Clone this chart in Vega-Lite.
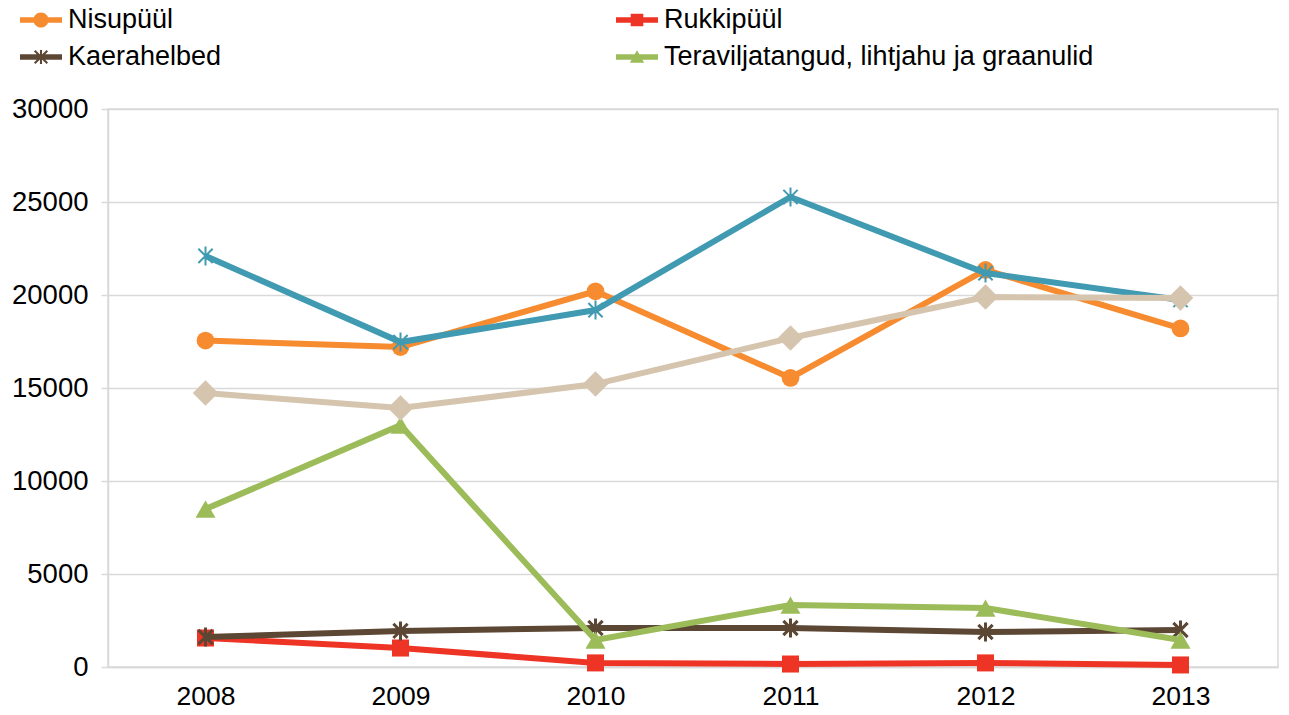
{
  "$schema": "https://vega.github.io/schema/vega-lite/v6.json",
  "width": 1170,
  "height": 558,
  "autosize": "none",
  "padding": {"left": 108, "top": 109, "right": 11, "bottom": 48},
  "data": {
    "values": [
      {"series": "Nisupüül", "year": "2008", "value": 17550},
      {"series": "Nisupüül", "year": "2009", "value": 17200},
      {"series": "Nisupüül", "year": "2010", "value": 20200},
      {"series": "Nisupüül", "year": "2011", "value": 15540},
      {"series": "Nisupüül", "year": "2012", "value": 21350},
      {"series": "Nisupüül", "year": "2013", "value": 18200},
      {"series": "Rukkipüül", "year": "2008", "value": 1560},
      {"series": "Rukkipüül", "year": "2009", "value": 1020},
      {"series": "Rukkipüül", "year": "2010", "value": 220},
      {"series": "Rukkipüül", "year": "2011", "value": 160},
      {"series": "Rukkipüül", "year": "2012", "value": 220},
      {"series": "Rukkipüül", "year": "2013", "value": 110},
      {"series": "Kaerahelbed", "year": "2008", "value": 1610},
      {"series": "Kaerahelbed", "year": "2009", "value": 1940},
      {"series": "Kaerahelbed", "year": "2010", "value": 2100},
      {"series": "Kaerahelbed", "year": "2011", "value": 2100},
      {"series": "Kaerahelbed", "year": "2012", "value": 1880},
      {"series": "Kaerahelbed", "year": "2013", "value": 1990},
      {"series": "Teraviljatangud, lihtjahu ja graanulid", "year": "2008", "value": 8490},
      {"series": "Teraviljatangud, lihtjahu ja graanulid", "year": "2009", "value": 13000},
      {"series": "Teraviljatangud, lihtjahu ja graanulid", "year": "2010", "value": 1450},
      {"series": "Teraviljatangud, lihtjahu ja graanulid", "year": "2011", "value": 3330},
      {"series": "Teraviljatangud, lihtjahu ja graanulid", "year": "2012", "value": 3170},
      {"series": "Teraviljatangud, lihtjahu ja graanulid", "year": "2013", "value": 1450},
      {"series": "Seeria 5", "year": "2008", "value": 22100},
      {"series": "Seeria 5", "year": "2009", "value": 17470},
      {"series": "Seeria 5", "year": "2010", "value": 19190},
      {"series": "Seeria 5", "year": "2011", "value": 25270},
      {"series": "Seeria 5", "year": "2012", "value": 21180},
      {"series": "Seeria 5", "year": "2013", "value": 19730},
      {"series": "Seeria 6", "year": "2008", "value": 14730},
      {"series": "Seeria 6", "year": "2009", "value": 13920},
      {"series": "Seeria 6", "year": "2010", "value": 15210},
      {"series": "Seeria 6", "year": "2011", "value": 17690},
      {"series": "Seeria 6", "year": "2012", "value": 19890},
      {"series": "Seeria 6", "year": "2013", "value": 19840}
    ]
  },
  "encoding": {
    "x": {
      "field": "year",
      "type": "ordinal",
      "scale": {"type": "point", "padding": 0.5},
      "axis": {
        "title": null,
        "labelAngle": 0,
        "labelFont": "Liberation Sans",
        "labelFontSize": 26.5,
        "labelColor": "#000000",
        "labelPadding": 16,
        "ticks": false,
        "grid": false,
        "domainColor": "#D9D9D9",
        "domainWidth": 1.5
      }
    },
    "y": {
      "field": "value",
      "type": "quantitative",
      "scale": {"domain": [0, 30000], "nice": false, "zero": true},
      "axis": {
        "title": null,
        "values": [0, 5000, 10000, 15000, 20000, 25000, 30000],
        "format": "d",
        "labelFont": "Liberation Sans",
        "labelFontSize": 27.5,
        "labelColor": "#000000",
        "labelPadding": 13,
        "tickSize": 7,
        "tickColor": "#D9D9D9",
        "tickWidth": 1.5,
        "domainColor": "#D9D9D9",
        "domainWidth": 1.5,
        "gridColor": "#D9D9D9",
        "gridWidth": 1.5
      }
    },
    "color": {
      "field": "series",
      "type": "nominal",
      "scale": {
        "domain": ["Nisupüül", "Rukkipüül", "Kaerahelbed", "Teraviljatangud, lihtjahu ja graanulid", "Seeria 5", "Seeria 6"],
        "range": ["#F68B2F", "#EE3424", "#5C4634", "#9CBB59", "#409AB1", "#D6C5AE"]
      },
      "legend": null
    }
  },
  "layer": [
    {
      "transform": [
        {"filter": "datum.year == '2008' && datum.series != 'Seeria 5' && datum.series != 'Seeria 6'"}
      ],
      "mark": {"type": "point", "filled": true, "opacity": 0},
      "encoding": {
        "color": {
          "field": "series",
          "type": "nominal",
          "legend": {
            "title": null,
            "values": ["Nisupüül", "Rukkipüül", "Kaerahelbed", "Teraviljatangud, lihtjahu ja graanulid"],
            "orient": "none",
            "direction": "horizontal",
            "legendX": -88,
            "legendY": -110,
            "columns": 2,
            "columnPadding": 394,
            "rowPadding": 3,
            "symbolSize": 1764,
            "symbolOpacity": 1,
            "symbolStrokeWidth": 0,
            "labelFont": "Liberation Sans",
            "labelFontSize": 27,
            "labelColor": "#000000",
            "labelOffset": 6,
            "labelLimit": 700
          }
        },
        "shape": {
          "field": "series",
          "type": "nominal",
          "scale": {
            "domain": ["Nisupüül", "Rukkipüül", "Kaerahelbed", "Teraviljatangud, lihtjahu ja graanulid", "Seeria 5", "Seeria 6"],
            "range": [
              "M-1,-0.13H1V0.13H-1Z M-0.36,0A0.36,0.36 0 1,1 0.36,0A0.36,0.36 0 1,1 -0.36,0Z",
              "M-1,-0.13H1V0.13H-1Z M-0.3,-0.3H0.3V0.3H-0.3Z",
              "M-1,-0.13H1V0.13H-1Z M-0.05,-0.33H0.05V0.33H-0.05Z M-0.265,-0.335L0.335,0.265L0.265,0.335L-0.335,-0.265Z M0.335,-0.265L-0.265,0.335L-0.335,0.265L0.265,-0.335Z",
              "M-1,-0.13H1V0.13H-1Z M0,-0.32L0.34,0.27L-0.34,0.27Z",
              "M-1,-0.13H1V0.13H-1Z",
              "M-1,-0.13H1V0.13H-1Z"
            ]
          },
          "legend": {
            "title": null,
            "values": ["Nisupüül", "Rukkipüül", "Kaerahelbed", "Teraviljatangud, lihtjahu ja graanulid"],
            "orient": "none",
            "direction": "horizontal",
            "legendX": -88,
            "legendY": -110,
            "columns": 2,
            "columnPadding": 394,
            "rowPadding": 3,
            "symbolSize": 1764,
            "symbolOpacity": 1,
            "symbolStrokeWidth": 0,
            "labelFont": "Liberation Sans",
            "labelFontSize": 27,
            "labelColor": "#000000",
            "labelOffset": 6,
            "labelLimit": 700
          }
        }
      }
    },
    {
      "transform": [{"filter": "datum.series == 'Nisupüül'"}],
      "mark": {"type": "line", "strokeWidth": 6, "point": {"shape": "circle", "filled": true, "size": 314, "opacity": 1}}
    },
    {
      "transform": [{"filter": "datum.series == 'Rukkipüül'"}],
      "mark": {"type": "line", "strokeWidth": 6, "point": {"shape": "square", "filled": true, "size": 290, "opacity": 1}}
    },
    {
      "transform": [{"filter": "datum.series == 'Kaerahelbed'"}],
      "mark": {"type": "line", "strokeWidth": 6, "point": {"shape": "M-0.75,-0.75L0.75,0.75M-0.75,0.75L0.75,-0.75M0,-1L0,1", "filled": false, "strokeWidth": 3, "size": 361, "opacity": 1}}
    },
    {
      "transform": [{"filter": "datum.series == 'Teraviljatangud, lihtjahu ja graanulid'"}],
      "mark": {"type": "line", "strokeWidth": 6, "point": {"shape": "triangle-up", "filled": true, "size": 400, "opacity": 1}}
    },
    {
      "transform": [{"filter": "datum.series == 'Seeria 5'"}],
      "mark": {"type": "line", "strokeWidth": 6, "point": {"shape": "M-0.75,-0.75L0.75,0.75M-0.75,0.75L0.75,-0.75M0,-1L0,1", "filled": false, "strokeWidth": 2, "size": 361, "opacity": 1}}
    },
    {
      "transform": [{"filter": "datum.series == 'Seeria 6'"}],
      "mark": {"type": "line", "strokeWidth": 6, "point": {"shape": "diamond", "filled": true, "size": 650, "opacity": 1}}
    }
  ],
  "config": {
    "view": {"stroke": "#D9D9D9", "strokeWidth": 1.5},
    "font": "Liberation Sans"
  }
}
